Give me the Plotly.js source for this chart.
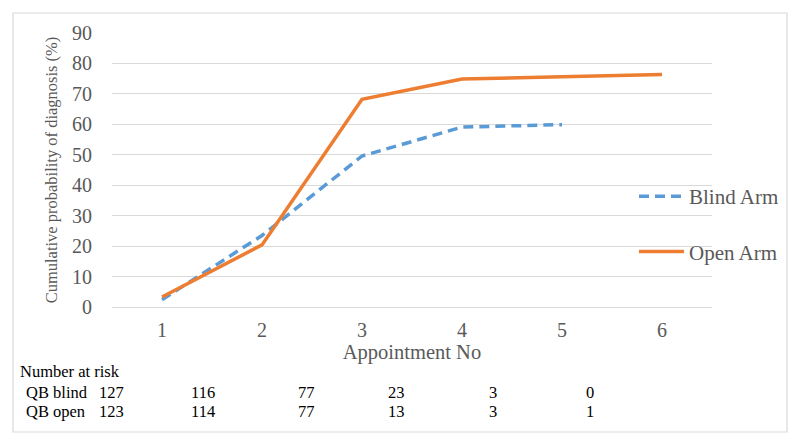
<!DOCTYPE html>
<html><head><meta charset="utf-8">
<script src="https://cdn.plot.ly/plotly-3.0.1.min.js"></script>
<style>html,body{margin:0;padding:0;background:#fff}#chart{width:800px;height:445px}</style>
</head><body><div id="chart"></div>
<script>
const appointments = [1, 2, 3, 4, 5, 6];
const blindArm = [2.4, 23.5, 49.6, 59.1, 59.9];
const openArm = [3.3, 20.4, 68.2, 74.9, 75.6, 76.4];
const riskRowLabels = ["QB blind", "QB open"];
const riskBlind = [127, 116, 77, 23, 3, 0];
const riskOpen = [123, 114, 77, 13, 3, 1];

const W = 800, H = 445;
const M = {l: 112, r: 88, t: 33, b: 138};
const pw = W - M.l - M.r, ph = H - M.t - M.b;
const px2x = px => (px - M.l) / pw;
const py2y = py => (H - M.b - py) / ph;

const serif = "Liberation Serif";
const grey = "#595959";

const riskColsPx = [111, 202.5, 306, 396, 493, 590];
const rowYPx = [392, 411];
const tableFont = {family:serif, size:16.5, color:'#000'};

const annotations = [];
annotations.push({xref:'paper', yref:'paper', x:px2x(18), y:py2y(372), xanchor:'left', yanchor:'middle',
  text:'Number at risk', showarrow:false, font:tableFont});
[riskBlind, riskOpen].forEach((row, r) => {
  annotations.push({xref:'paper', yref:'paper', x:px2x(24), y:py2y(rowYPx[r]), xanchor:'left', yanchor:'middle',
    text:riskRowLabels[r], showarrow:false, font:tableFont});
  row.forEach((v, i) => {
    annotations.push({xref:'paper', yref:'paper', x:px2x(riskColsPx[i]), y:py2y(rowYPx[r]), xanchor:'center', yanchor:'middle',
      text:String(v), showarrow:false, font:tableFont});
  });
});

const traces = [
  {x: appointments.slice(0, blindArm.length), y: blindArm, type:'scatter', mode:'lines', name:'Blind Arm',
   legendgroup:'b', line:{color:'#5B9BD5', width:3.5, dash:'10px,6px'}},
  {x: appointments, y: openArm, type:'scatter', mode:'lines', name:'Open Arm',
   legendgroup:'o', line:{color:'#ED7D31', width:3.5}}
];

const layout = {
  width: W, height: H,
  margin: M,
  paper_bgcolor:'#fff', plot_bgcolor:'#fff',
  font:{family:serif, color:grey},
  showlegend:true,
  legend:{x:px2x(634), y:py2y(176), xanchor:'left', yanchor:'top', bgcolor:'rgba(0,0,0,0)',
    font:{family:serif, size:21, color:grey}, traceorder:'grouped', tracegroupgap:25, itemwidth:45},
  xaxis:{range:[0.5, 6.5], tickvals:appointments, ticktext:appointments.map(String),
    showgrid:false, zeroline:false, showline:false, ticks:'',
    tickfont:{family:serif, size:20, color:grey}, ticklabelstandoff:9,
    title:{text:'Appointment No', font:{family:serif, size:20.5, color:grey}, standoff:4}},
  yaxis:{range:[0, 90], dtick:10, showgrid:true, gridcolor:'#d9d9d9', gridwidth:1,
    zeroline:true, zerolinecolor:'#d9d9d9', zerolinewidth:1, showline:false, ticks:'',
    tickfont:{family:serif, size:20, color:grey}, ticklabelstandoff:19,
    title:{text:'Cumulative probability of diagnosis (%)', font:{family:serif, size:16.5, color:grey}, standoff:10}},
  shapes:[{type:'rect', xref:'paper', yref:'paper', x0:px2x(13), x1:px2x(787), y0:py2y(432), y1:py2y(13),
    line:{color:'#d9d9d9', width:1.2}, fillcolor:'rgba(0,0,0,0)', layer:'below'}],
  annotations: annotations
};

Plotly.newPlot('chart', traces, layout, {displayModeBar:false, staticPlot:true});
</script>
</body></html>
